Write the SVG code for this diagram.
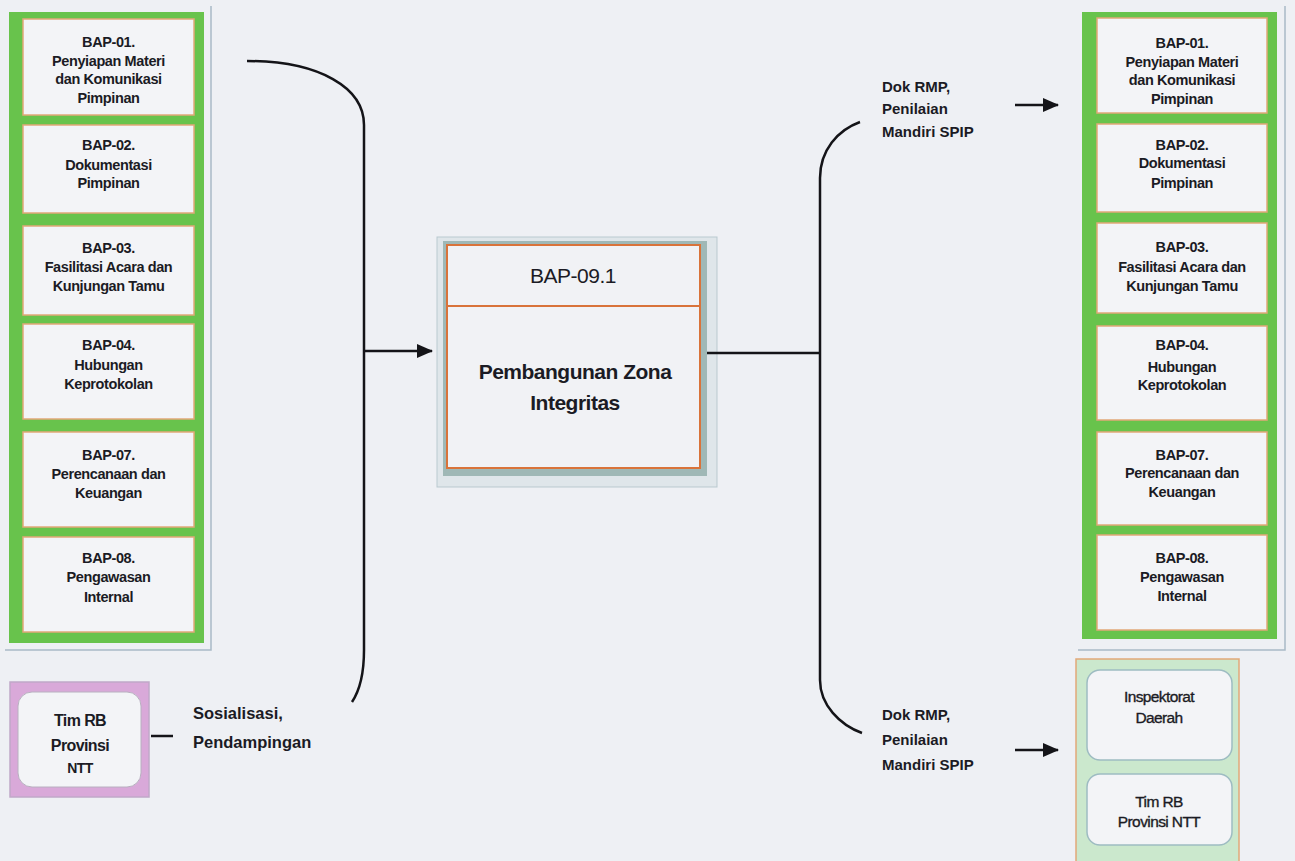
<svg xmlns="http://www.w3.org/2000/svg" width="1295" height="861" viewBox="0 0 1295 861">
<defs>
<style>
.bg{fill:#eef0f4}
.shadow{fill:none;stroke:#a9b9c6;stroke-width:1.5}
.green{fill:#68c34c}
.box{fill:#f3f4f7;stroke:#e2a878;stroke-width:1.5}
.t{font-family:"Liberation Sans",Arial,sans-serif;font-weight:bold;font-size:14.5px;fill:#1b1b24;text-anchor:middle;letter-spacing:-0.4px}
.lbl{font-family:"Liberation Sans",Arial,sans-serif;font-weight:bold;font-size:15px;fill:#1b1b24}
.lbl2{font-family:"Liberation Sans",Arial,sans-serif;font-weight:bold;font-size:16.5px;fill:#1b1b24}
.big{font-family:"Liberation Sans",Arial,sans-serif;font-size:21px;fill:#1b1b24;text-anchor:middle;letter-spacing:-0.5px}
.sm{font-family:"Liberation Sans",Arial,sans-serif;font-size:15.5px;fill:#1b1b24;stroke:#1b1b24;stroke-width:0.35;text-anchor:middle;letter-spacing:-0.6px}
.ln{fill:none;stroke:#141418;stroke-width:2.5}
.rbox{fill:#f3f4f7;stroke:#9ebcc2;stroke-width:1.5}
</style>
<marker id="ah2" markerWidth="16" markerHeight="16" refX="15" refY="8" orient="auto" markerUnits="userSpaceOnUse" viewBox="0 0 16 16">
<path d="M0,1 L16,8 L0,15 Z" fill="#141418"/>
</marker>
</defs>
<rect class="bg" x="0" y="0" width="1295" height="861"/>

<g id="left-column">
<path class="shadow" d="M211,6 V650 H5"/>
<rect class="green" x="9" y="12" width="195" height="631"/>
<g id="L-BAP01"><rect class="box" x="23" y="19" width="171" height="96"/>
<text class="t" x="108.5" y="47">BAP-01.</text><text class="t" x="108.5" y="66">Penyiapan Materi</text><text class="t" x="108.5" y="84">dan Komunikasi</text><text class="t" x="108.5" y="103">Pimpinan</text></g>
<g id="L-BAP02"><rect class="box" x="23" y="125" width="171" height="88"/>
<text class="t" x="108.5" y="150">BAP-02.</text><text class="t" x="108.5" y="170">Dokumentasi</text><text class="t" x="108.5" y="188">Pimpinan</text></g>
<g id="L-BAP03"><rect class="box" x="23" y="226" width="171" height="89"/>
<text class="t" x="108.5" y="253">BAP-03.</text><text class="t" x="108.5" y="272">Fasilitasi Acara dan</text><text class="t" x="108.5" y="291">Kunjungan Tamu</text></g>
<g id="L-BAP04"><rect class="box" x="23" y="324" width="171" height="95"/>
<text class="t" x="108.5" y="350">BAP-04.</text><text class="t" x="108.5" y="370">Hubungan</text><text class="t" x="108.5" y="389">Keprotokolan</text></g>
<g id="L-BAP07"><rect class="box" x="23" y="432" width="171" height="95"/>
<text class="t" x="108.5" y="460">BAP-07.</text><text class="t" x="108.5" y="479">Perencanaan dan</text><text class="t" x="108.5" y="498">Keuangan</text></g>
<g id="L-BAP08"><rect class="box" x="23" y="537" width="171" height="95"/>
<text class="t" x="108.5" y="563">BAP-08.</text><text class="t" x="108.5" y="582">Pengawasan</text><text class="t" x="108.5" y="602">Internal</text></g>
</g>

<g id="tim-rb-left">
<rect x="10" y="682" width="139" height="115" fill="#d9a9d9" stroke="#c0a8c8" stroke-width="1.5"/>
<rect x="18" y="692" width="123" height="95" rx="14" fill="#f3f4f7" stroke="#b8b0c0" stroke-width="1"/>
<text x="80" y="726" font-family="Liberation Sans,Arial,sans-serif" font-weight="bold" font-size="16" fill="#1b1b24" text-anchor="middle" letter-spacing="-0.6">Tim RB</text>
<text x="80" y="751" font-family="Liberation Sans,Arial,sans-serif" font-weight="bold" font-size="16" fill="#1b1b24" text-anchor="middle" letter-spacing="-0.6">Provinsi</text>
<text x="80" y="773" font-family="Liberation Sans,Arial,sans-serif" font-weight="bold" font-size="14" fill="#1b1b24" text-anchor="middle" letter-spacing="-0.6">NTT</text>
</g>

<g id="center">
<rect x="437" y="237" width="280" height="250" fill="#dfe6ea" stroke="#b9c9cf" stroke-width="1"/>
<rect x="443" y="241" width="264" height="235" fill="#9fb8b6"/>
<rect x="447" y="245" width="253" height="223" fill="#f1f2f5" stroke="#d9733a" stroke-width="2"/>
<line x1="447" y1="306" x2="700" y2="306" stroke="#d9733a" stroke-width="2"/>
<text class="big" x="573" y="283">BAP-09.1</text>
<text class="big" x="575" y="379" font-weight="bold">Pembangunan Zona</text>
<text class="big" x="575" y="410" font-weight="bold">Integritas</text>
</g>

<g id="right-column">
<path class="shadow" d="M1285,6 V650 H1078"/>
<rect class="green" x="1082" y="12" width="195" height="627"/>
<g id="R-BAP01"><rect class="box" x="1097" y="18" width="170" height="95"/>
<text class="t" x="1182" y="48">BAP-01.</text><text class="t" x="1182" y="67">Penyiapan Materi</text><text class="t" x="1182" y="85">dan Komunikasi</text><text class="t" x="1182" y="104">Pimpinan</text></g>
<g id="R-BAP02"><rect class="box" x="1097" y="124" width="170" height="88"/>
<text class="t" x="1182" y="150">BAP-02.</text><text class="t" x="1182" y="168">Dokumentasi</text><text class="t" x="1182" y="188">Pimpinan</text></g>
<g id="R-BAP03"><rect class="box" x="1097" y="223" width="170" height="90"/>
<text class="t" x="1182" y="252">BAP-03.</text><text class="t" x="1182" y="272">Fasilitasi Acara dan</text><text class="t" x="1182" y="291">Kunjungan Tamu</text></g>
<g id="R-BAP04"><rect class="box" x="1097" y="326" width="170" height="94"/>
<text class="t" x="1182" y="350">BAP-04.</text><text class="t" x="1182" y="372">Hubungan</text><text class="t" x="1182" y="390">Keprotokolan</text></g>
<g id="R-BAP07"><rect class="box" x="1097" y="432" width="170" height="93"/>
<text class="t" x="1182" y="460">BAP-07.</text><text class="t" x="1182" y="478">Perencanaan dan</text><text class="t" x="1182" y="497">Keuangan</text></g>
<g id="R-BAP08"><rect class="box" x="1097" y="535" width="170" height="95"/>
<text class="t" x="1182" y="563">BAP-08.</text><text class="t" x="1182" y="582">Pengawasan</text><text class="t" x="1182" y="601">Internal</text></g>
</g>

<g id="right-bottom">
<rect x="1076" y="659" width="163" height="215" fill="#cbe8cd" stroke="#e2a878" stroke-width="1.5"/>
<g id="inspektorat"><rect class="rbox" x="1087" y="670" width="145" height="90" rx="13"/>
<text class="sm" x="1159" y="702">Inspektorat</text><text class="sm" x="1159" y="723">Daerah</text></g>
<g id="tim-rb-right"><rect class="rbox" x="1087" y="774" width="145" height="71" rx="13"/>
<text class="sm" x="1159" y="807">Tim RB</text><text class="sm" x="1159" y="827">Provinsi NTT</text></g>
</g>

<g id="connectors">
<path class="ln" d="M247,61 C320,61 364,88 364,125 V650 C364,675 360,690 352,702"/>
<path class="ln" d="M365,351 H432" stroke-width="2" marker-end="url(#ah2)"/>
<line class="ln" x1="151" y1="736" x2="173" y2="736" stroke-width="2.5"/>
<path class="ln" d="M707,353 H820"/>
<path class="ln" d="M860,122 C838,130 820,150 820,178 V680 C820,705 840,725 862,733"/>
<path class="ln" d="M1015,105 H1058" stroke-width="2" marker-end="url(#ah2)"/>
<path class="ln" d="M1015,750 H1058" stroke-width="2" marker-end="url(#ah2)"/>
</g>

<g id="labels">
<text class="lbl2" x="193" y="719">Sosialisasi,</text>
<text class="lbl2" x="193" y="748">Pendampingan</text>
<text class="lbl" x="882" y="92">Dok RMP,</text>
<text class="lbl" x="882" y="114">Penilaian</text>
<text class="lbl" x="882" y="137">Mandiri SPIP</text>
<text class="lbl" x="882" y="720">Dok RMP,</text>
<text class="lbl" x="882" y="745">Penilaian</text>
<text class="lbl" x="882" y="770">Mandiri SPIP</text>
</g>
</svg>
